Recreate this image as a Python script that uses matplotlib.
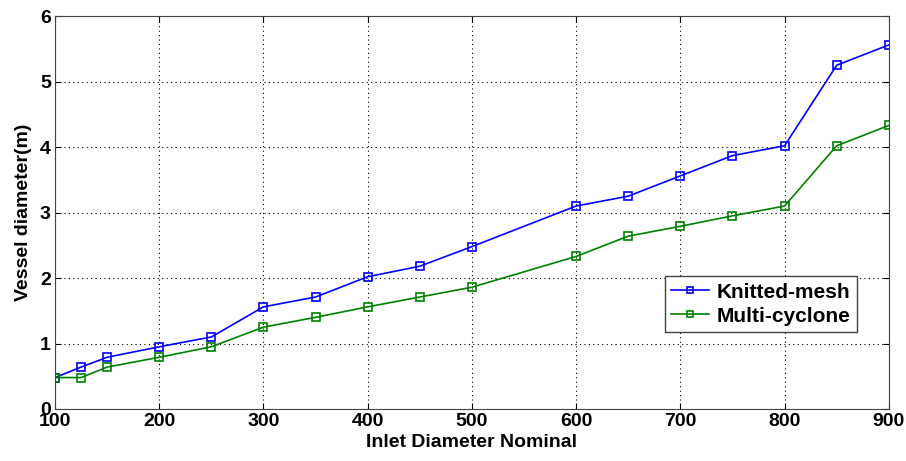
import numpy as np
import matplotlib
matplotlib.use("Agg")
import matplotlib.pyplot as plt

plt.rcParams['font.family'] = ['Liberation Sans', 'DejaVu Sans']

# Nominal inlet diameter vs required vessel diameter
inlet = [100, 125, 150, 200, 250, 300, 350, 400, 450, 500, 600, 650, 700, 750, 800, 850, 900]
knitted_mesh = [0.48, 0.64, 0.79, 0.95, 1.10, 1.56, 1.71, 2.02, 2.18, 2.48, 3.10, 3.25, 3.56, 3.87, 4.02, 5.25, 5.56]
multi_cyclone = [0.48, 0.48, 0.64, 0.79, 0.95, 1.25, 1.40, 1.56, 1.71, 1.86, 2.33, 2.64, 2.79, 2.95, 3.10, 4.02, 4.33]

fig = plt.figure(figsize=(9.06, 4.61), dpi=100)
ax = fig.add_axes([0.0607, 0.1128, 0.9203, 0.8522])

ax.plot(inlet, knitted_mesh, color='blue', lw=1.2, marker='s', ms=6,
        mfc='none', mec='blue', mew=1.2, label='Knitted-mesh')
ax.plot(inlet, multi_cyclone, color='green', lw=1.2, marker='s', ms=6,
        mfc='none', mec='green', mew=1.2, label='Multi-cyclone')

ax.set_xlim(100, 900)
ax.set_ylim(0, 6)
ax.set_xticks(np.arange(100, 901, 100))
ax.set_yticks(np.arange(0, 7, 1))
ax.grid(True, color='black', linestyle=(0, (1, 3)), linewidth=0.8)
ax.tick_params(direction='in', length=4, labelsize=14, top=True, right=True, pad=3)
for lbl in ax.get_xticklabels() + ax.get_yticklabels():
    lbl.set_fontweight('bold')
for s in ax.spines.values():
    s.set_color('#444444')

ax.set_xlabel('Inlet Diameter Nominal', fontsize=14, fontweight='bold', labelpad=3)
ax.set_ylabel('Vessel diameter(m)', fontsize=14, fontweight='bold', labelpad=6)

leg = ax.legend(loc='lower right', bbox_to_anchor=(0.962, 0.196), borderaxespad=0,
                prop={'weight': 'bold', 'size': 15}, fancybox=False,
                framealpha=1, edgecolor='#444444', handlelength=1.8,
                borderpad=0.3, labelspacing=0.25, handletextpad=0.4, markerscale=0.7)
leg.get_frame().set_linewidth(1.0)

fig.savefig('out.png', dpi=100)
